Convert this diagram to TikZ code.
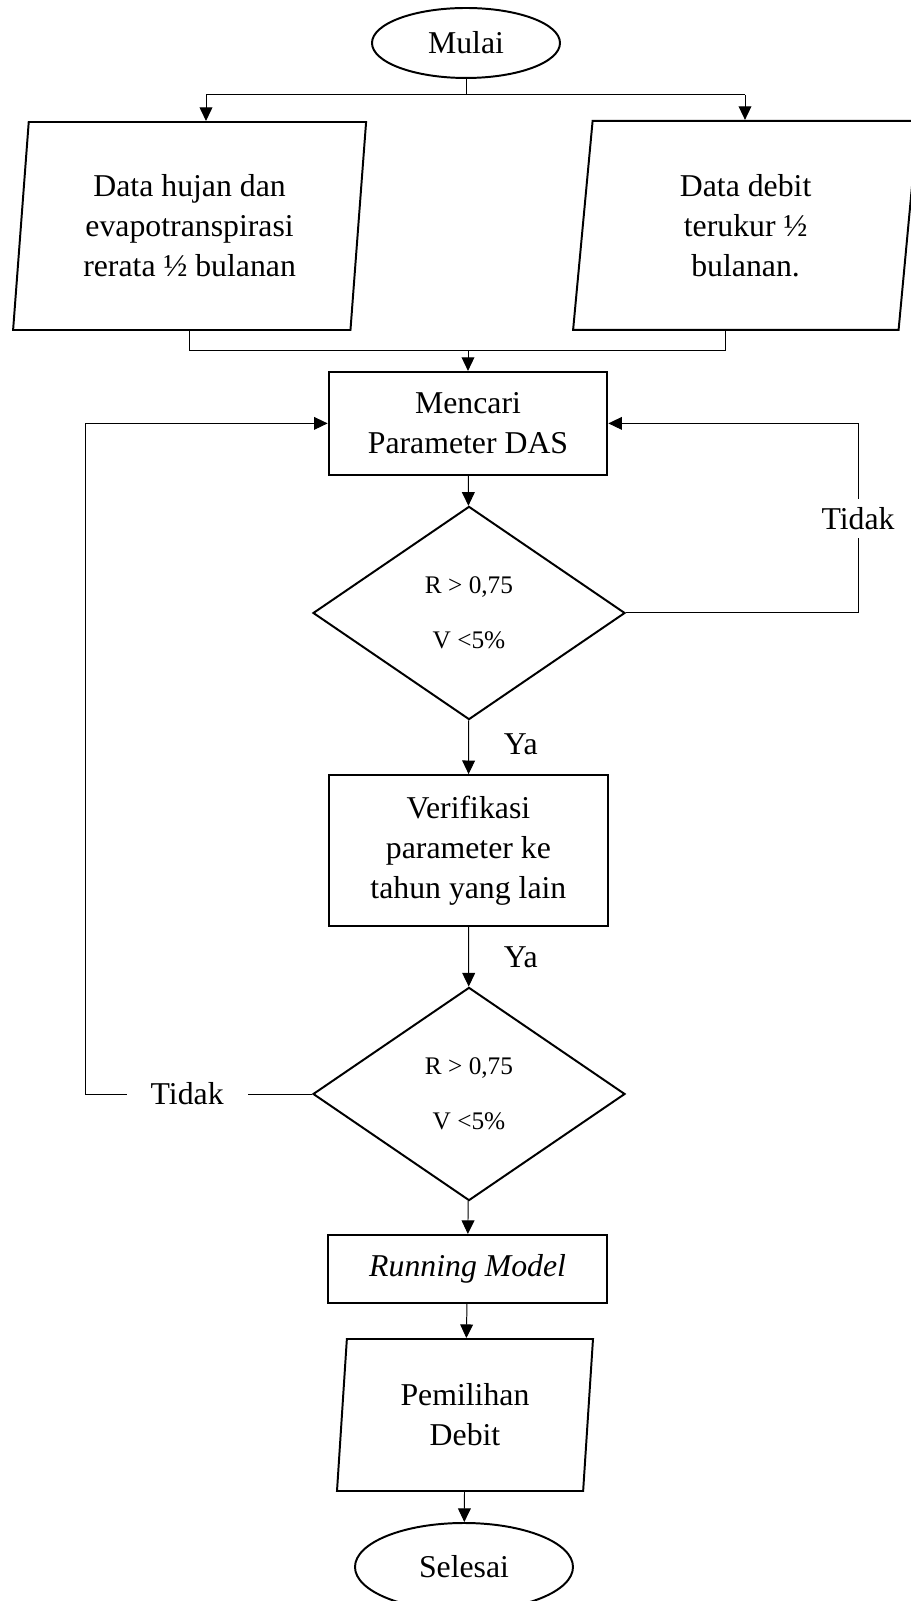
\documentclass[tikz,border=0pt]{standalone}
\usepackage{fontspec}
\setmainfont{Liberation Serif}
\usetikzlibrary{shapes.geometric, arrows.meta, positioning, calc}

\begin{document}
\begin{tikzpicture}[
    font=\fontsize{22.6}{28.4}\selectfont,
    >={Triangle[length=3.4mm, width=3.2mm]},
    % Node styles
    terminal/.style={ellipse, draw=black, line width=1.4pt, inner sep=0pt},
    dataio/.style={trapezium, trapezium stretches body, draw=black, line width=1.4pt, align=center, inner sep=0pt},
    process/.style={rectangle, draw=black, line width=1.4pt, align=center, inner sep=0pt, minimum width=6.97cm},
    decision/.style={diamond, draw=black, line width=1.4pt, align=center, inner sep=0pt, minimum width=7.8cm, minimum height=5.33cm, font=\fontsize{18}{22}\selectfont},
    % Edge styles
    arrow/.style={->, line width=0.7pt, draw=black},
    link/.style={line width=0.7pt, draw=black},
    flowlbl/.style={inner sep=2pt}
]
\useasboundingbox (0,0) rectangle (22.775,40.025);

% -----------------------------------------------------------
% Start and input data
% -----------------------------------------------------------
\node[terminal, minimum width=4.7cm, minimum height=1.75cm] (mulai) at (11.65, 38.95) {Mulai};
\node[dataio, minimum width=8.825cm, minimum height=5.2cm, trapezium left angle=81.3, trapezium right angle=98.7] (hujan) at (4.74, 34.375) {Data hujan dan\\evapotranspirasi\\rerata ½ bulanan};
\node[dataio, minimum width=8.625cm, minimum height=5.225cm, trapezium left angle=79.2, trapezium right angle=100.8] (debit) at (18.64, 34.39) {Data debit\\terukur ½\\bulanan.};

% -----------------------------------------------------------
% Calibration and verification
% -----------------------------------------------------------
\node[process, minimum height=2.575cm] (mencari) at (11.7, 29.44) {Mencari\\Parameter DAS};
\node[decision] (cek1) at (11.725, 24.7) {R > 0,75\\[0.6cm]V <5\%};
\node[process, minimum height=3.775cm] (verif) at (11.71, 18.76) {Verifikasi\\parameter ke\\tahun yang lain};
\node[decision] (cek2) at (11.725, 12.675) {R > 0,75\\[0.6cm]V <5\%};

% -----------------------------------------------------------
% Model run and output
% -----------------------------------------------------------
\node[process, minimum height=1.7cm] (running) at (11.69, 8.3) {\textit{Running Model}};
\node[dataio, minimum width=6.4cm, minimum height=3.8cm, trapezium left angle=81, trapezium right angle=99] (pilih) at (11.625, 4.65) {Pemilihan\\Debit};
\node[terminal, minimum width=5.45cm, minimum height=2.2cm] (selesai) at (11.6, 0.85) {Selesai};

% branch and merge points
\coordinate (brL) at (5.15, 37.65);
\coordinate (brR) at (18.625, 37.65);
\coordinate (mrgR) at (18.125, 31.25);
\coordinate (loopR) at (21.45, 0);
\coordinate (loopL) at (2.125, 0);

% -----------------------------------------------------------
% Connectors
% -----------------------------------------------------------
\draw[link] (mulai.south) -- (mulai.south |- brL);
\draw[link] (brL) -- (brR);
\draw[arrow] (brL) -- (brL |- hujan.north);
\draw[arrow] (brR) -- (brR |- debit.north);

\draw[link] (hujan.south) |- (mrgR) -- (mrgR |- debit.south);
\draw[arrow] (mencari.north |- mrgR) -- (mencari.north);

\draw[arrow] (mencari) -- (cek1);
\draw[arrow] (cek1) -- node[flowlbl, anchor=west, xshift=0.8cm, pos=0.45] {Ya} (verif);
\draw[arrow] (verif) -- node[flowlbl, anchor=west, xshift=0.8cm, pos=0.5] {Ya} (cek2);
\draw[arrow] (cek2) -- (running);
\draw[arrow] (running) -- (pilih);
\draw[arrow] (pilih) -- (selesai);

% Feedback loops back to parameter search
\draw[arrow] (cek1.east) -- (loopR |- cek1.east) -- node[fill=white, inner sep=6pt, pos=0.5] {Tidak} (loopR |- mencari.east) -- (mencari.east);
\draw[arrow] (cek2.west) -- node[fill=white, inner sep=0.6cm, pos=0.55] {Tidak} (loopL |- cek2.west) -- (loopL |- mencari.west) -- (mencari.west);

\end{tikzpicture}
\end{document}
